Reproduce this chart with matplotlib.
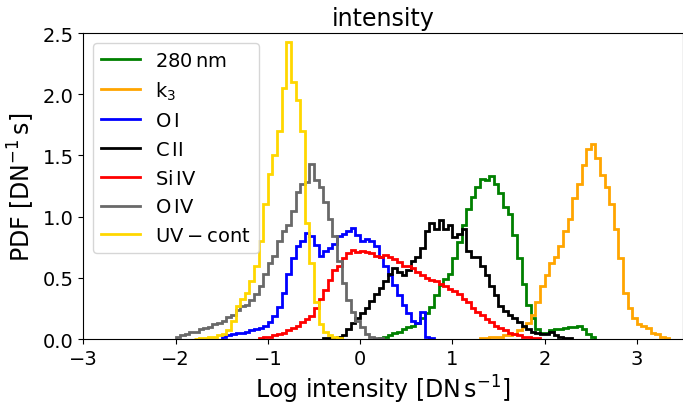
import numpy as np
import matplotlib
matplotlib.use('Agg')
import matplotlib.pyplot as plt

BW = 0.05  # histogram bin width

# PDF values per bin, each series starts at its own left edge
start_280 = 0.20
pdf_280 = [0.01, 0.02, 0.03, 0.05, 0.06, 0.08, 0.10, 0.11, 0.13, 0.17,
           0.21, 0.26, 0.36, 0.44, 0.49, 0.53, 0.66, 0.79, 0.93, 1.06,
           1.16, 1.24, 1.31, 1.30, 1.33, 1.27, 1.19, 1.08, 1.02, 0.85,
           0.66, 0.45, 0.28, 0.17, 0.08, 0.05, 0.05, 0.07, 0.08, 0.08,
           0.09, 0.10, 0.10, 0.11, 0.08, 0.04, 0.02]

start_k3 = 1.30
pdf_k3 = [0.01, 0.01, 0.02, 0.02, 0.02, 0.03, 0.03, 0.04, 0.07, 0.10,
          0.13, 0.20, 0.30, 0.43, 0.52, 0.62, 0.67, 0.76, 0.88, 0.98,
          1.15, 1.27, 1.42, 1.55, 1.59, 1.48, 1.34, 1.24, 1.10, 0.90,
          0.66, 0.38, 0.25, 0.17, 0.12, 0.11, 0.09, 0.05, 0.04, 0.02, 0.01]

start_oi = -1.50
pdf_oi = [0.02, 0.03, 0.04, 0.05, 0.05, 0.06, 0.07, 0.08, 0.09, 0.11,
          0.14, 0.19, 0.26, 0.38, 0.53, 0.66, 0.76, 0.80, 0.87, 0.84,
          0.77, 0.68, 0.72, 0.74, 0.78, 0.84, 0.86, 0.88, 0.91, 0.85,
          0.80, 0.82, 0.80, 0.76, 0.67, 0.60, 0.52, 0.44, 0.36, 0.28,
          0.21, 0.15, 0.13, 0.22, 0.02, 0.01]

start_cii = -0.40
pdf_cii = [0.01, 0.01, 0.01, 0.02, 0.03, 0.08, 0.13, 0.17, 0.21, 0.25,
           0.31, 0.37, 0.42, 0.47, 0.53, 0.58, 0.55, 0.52, 0.56, 0.64,
           0.67, 0.74, 0.88, 0.95, 0.90, 0.97, 0.90, 0.93, 0.83, 0.86,
           0.90, 0.72, 0.67, 0.67, 0.60, 0.52, 0.43, 0.36, 0.27, 0.23,
           0.20, 0.17, 0.14, 0.11, 0.08, 0.06, 0.05, 0.04, 0.04, 0.06,
           0.03, 0.02, 0.01, 0.01]

start_siiv = -1.10
pdf_siiv = [0.01, 0.02, 0.02, 0.03, 0.04, 0.05, 0.07, 0.09, 0.11, 0.14,
            0.16, 0.19, 0.25, 0.33, 0.40, 0.48, 0.56, 0.60, 0.66, 0.70,
            0.73, 0.71, 0.72, 0.71, 0.70, 0.68, 0.67, 0.69, 0.67, 0.65,
            0.63, 0.60, 0.60, 0.58, 0.55, 0.52, 0.50, 0.48, 0.47, 0.45,
            0.43, 0.41, 0.39, 0.37, 0.33, 0.30, 0.25, 0.22, 0.20, 0.16,
            0.14, 0.11, 0.09, 0.07, 0.05, 0.04, 0.03, 0.02, 0.02, 0.01, 0.01]

start_oiv = -2.00
pdf_oiv = [0.02, 0.03, 0.04, 0.06, 0.06, 0.08, 0.09, 0.10, 0.12, 0.13,
           0.15, 0.18, 0.20, 0.24, 0.27, 0.28, 0.32, 0.37, 0.43, 0.53,
           0.62, 0.68, 0.80, 0.88, 0.93, 1.05, 1.20, 1.27, 1.28, 1.43,
           1.30, 1.24, 1.12, 0.98, 0.84, 0.64, 0.46, 0.32, 0.22, 0.15,
           0.10, 0.04, 0.02, 0.01, 0.005]

start_uv = -1.80
pdf_uv = [0.00, 0.01, 0.01, 0.02, 0.02, 0.03, 0.04, 0.07, 0.15, 0.27,
          0.33, 0.38, 0.47, 0.60, 0.80, 1.10, 1.35, 1.50, 1.70, 2.05,
          2.43, 2.10, 1.95, 1.70, 0.95, 0.62, 0.30, 0.12, 0.06, 0.03,
          0.02, 0.01]

series = [
    ('280$\\,$nm', start_280, pdf_280, 'green'),
    ('k$_3$', start_k3, pdf_k3, 'orange'),
    ('O$\\,$I', start_oi, pdf_oi, 'blue'),
    ('C$\\,$II', start_cii, pdf_cii, 'black'),
    ('Si$\\,$IV', start_siiv, pdf_siiv, 'red'),
    ('O$\\,$IV', start_oiv, pdf_oiv, 'dimgray'),
    ('$\\mathrm{UV-cont}$', start_uv, pdf_uv, 'gold'),
]

fig = plt.figure(figsize=(6.83, 4.10), dpi=100)
ax = fig.add_axes([0.122, 0.1707, 0.878, 0.7463])

for label, x0, vals, col in series:
    edges = x0 + BW * np.arange(len(vals) + 1)
    ax.stairs(vals, edges, color=col, lw=2, label=label)

ax.set_xlim(-3, 3.5)
ax.set_ylim(0, 2.5)
ax.set_xticks([-3, -2, -1, 0, 1, 2, 3])
ax.set_yticks([0, 0.5, 1.0, 1.5, 2.0, 2.5])
ax.tick_params(labelsize=14)
ax.set_xlabel('Log intensity [DN$\\,$s$^{-1}$]', fontsize=17)
ax.set_ylabel('PDF [DN$^{-1}\\,$s]', fontsize=17)
ax.set_title('intensity', fontsize=17)
ax.legend(loc='upper left', fontsize=14)

plt.savefig('out.png')
plt.close()
